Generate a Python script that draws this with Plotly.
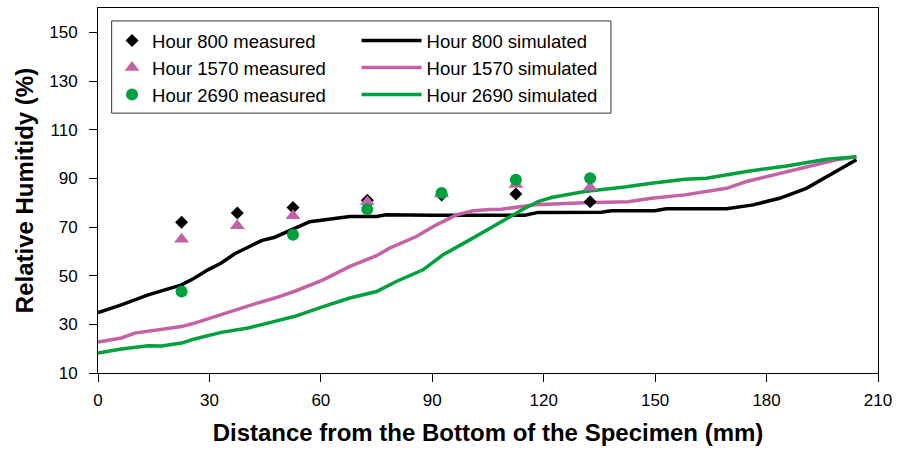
import plotly.graph_objects as go

# Measured relative humidity at sensor depths (mm from bottom)
meas_x_800 = [22.5, 37.5, 52.5, 72.5, 92.5, 112.5, 132.5]
meas_y_800 = [72.0, 75.8, 78.0, 81.0, 83.2, 83.6, 80.4]

meas_x_1570 = [22.5, 37.5, 52.5, 72.5, 92.5, 112.5, 132.5]
meas_y_1570 = [65.0, 70.5, 74.6, 80.4, 83.6, 87.5, 86.3]

meas_x_2690 = [22.5, 52.5, 72.5, 92.5, 112.5, 132.5]
meas_y_2690 = [43.5, 66.8, 77.3, 84.0, 89.4, 90.0]

# Simulated profiles
sim_x_800 = [0, 6.3, 13.5, 22.5, 26.0, 29.6, 33.2, 36.8, 40.4, 44.0, 47.6, 53.0,
             57.0, 60.6, 67.8, 75.0, 77.6, 90.0, 105.5, 114.9, 118.5, 135.5,
             138.2, 149.9, 153.0, 158.0, 169.2, 176.4, 183.5, 190.7, 197.0, 204.2]
sim_y_800 = [34.8, 38.0, 42.1, 46.2, 49.0, 52.4, 55.2, 59.0, 61.7, 64.4, 65.8, 69.4,
             72.2, 72.9, 74.3, 74.3, 75.0, 74.8, 75.0, 74.8, 76.0, 76.1,
             76.7, 76.7, 77.5, 77.5, 77.5, 79.1, 81.8, 85.9, 91.4, 97.6]

sim_x_1570 = [0, 6.3, 9.9, 17.1, 22.5, 26.0, 31.4, 36.8, 42.2, 47.6, 53.0, 60.6,
              67.8, 75.0, 78.5, 85.7, 91.1, 96.5, 101.0, 105.5, 108.6, 117.6,
              131.0, 142.7, 149.0, 158.0, 169.2, 174.6, 183.5, 192.5, 198.8, 204.2]
sim_y_1570 = [22.7, 24.4, 26.4, 27.8, 29.1, 30.5, 33.2, 36.0, 38.4, 40.8, 43.6, 48.3,
              53.8, 58.2, 61.3, 66.1, 70.9, 75.0, 76.7, 77.2, 77.3, 79.1,
              80.0, 80.4, 81.8, 83.2, 85.9, 88.7, 92.1, 95.5, 97.6, 98.9]

sim_x_2690 = [0, 6.3, 13.5, 17.1, 22.5, 26.0, 33.2, 40.4, 47.6, 53.0, 60.6, 67.8,
              75.0, 80.3, 87.5, 92.9, 100.1, 105.5, 109.5, 114.9, 118.5, 122.1,
              131.0, 141.8, 149.0, 158.0, 163.8, 174.6, 185.4, 196.1, 204.2]
sim_y_2690 = [18.2, 19.9, 21.2, 21.1, 22.3, 24.0, 26.7, 28.5, 31.2, 33.3, 37.3, 40.8,
              43.5, 47.6, 52.4, 58.6, 64.7, 69.5, 72.9, 77.7, 80.4, 82.1,
              84.6, 86.4, 88.0, 89.6, 90.0, 92.8, 95.1, 97.8, 98.9]

x_ticks = [0, 30, 60, 90, 120, 150, 180, 210]
y_ticks = [10, 30, 50, 70, 90, 110, 130, 150]

BLACK = "#000000"
PINK = "#C462A6"
GREEN = "#00A03E"
FONT = "Liberation Sans, Arial, sans-serif"

fig = go.Figure()

# Lines first so markers sit on top
fig.add_trace(go.Scatter(x=sim_x_800, y=sim_y_800, mode="lines", name="Hour 800 simulated",
                         line=dict(color=BLACK, width=3.5), legend="legend2"))
fig.add_trace(go.Scatter(x=sim_x_1570, y=sim_y_1570, mode="lines", name="Hour 1570 simulated",
                         line=dict(color=PINK, width=3.5), legend="legend2"))
fig.add_trace(go.Scatter(x=sim_x_2690, y=sim_y_2690, mode="lines", name="Hour 2690 simulated",
                         line=dict(color=GREEN, width=3.5), legend="legend2"))

fig.add_trace(go.Scatter(x=meas_x_800, y=meas_y_800, mode="markers", name="Hour 800 measured",
                         marker=dict(symbol="diamond", color=BLACK, size=10), legend="legend"))
fig.add_trace(go.Scatter(x=meas_x_1570, y=meas_y_1570, mode="markers", name="Hour 1570 measured",
                         marker=dict(symbol="triangle-up", color=PINK, size=13), legend="legend"))
fig.add_trace(go.Scatter(x=meas_x_2690, y=meas_y_2690, mode="markers", name="Hour 2690 measured",
                         marker=dict(symbol="circle", color=GREEN, size=12), legend="legend"))

legend_common = dict(font=dict(family=FONT, size=18.5, color="#000"),
                     bgcolor="rgba(0,0,0,0)", borderwidth=0,
                     xanchor="left", yanchor="top", traceorder="normal")

fig.update_layout(
    width=899, height=450,
    margin=dict(l=98, r=19, t=7, b=77),
    paper_bgcolor="white", plot_bgcolor="white",
    font=dict(family=FONT, color="#000"),
    legend=dict(x=0.018, y=0.962, **legend_common),
    legend2=dict(x=0.3315, y=0.962, itemwidth=60, **legend_common),
    shapes=[dict(type="rect", xref="paper", yref="paper",
                 x0=0.0175, x1=0.6576, y0=0.712, y1=0.9645,
                 line=dict(color="#333", width=1), fillcolor="rgba(0,0,0,0)")],
    xaxis=dict(range=[0, 210], tickvals=x_ticks, ticks="outside", ticklen=8,
               tickcolor="#000", showline=True, linecolor="#000", linewidth=1,
               mirror=True, showgrid=False, zeroline=False, ticklabelstandoff=4,
               tickfont=dict(family=FONT, size=17),
               title=dict(text="Distance from the Bottom of the Specimen (mm)",
                          font=dict(family=FONT, size=24, weight="bold"), standoff=14)),
    yaxis=dict(range=[10, 160], tickvals=y_ticks, ticks="outside", ticklen=8,
               tickcolor="#000", showline=True, linecolor="#000", linewidth=1,
               mirror=True, showgrid=False, zeroline=False, ticklabelstandoff=8,
               tickfont=dict(family=FONT, size=17),
               title=dict(text="Relative Humitidy (%)",
                          font=dict(family=FONT, size=24, weight="bold"), standoff=8)),
)

fig.write_html("out.html")
